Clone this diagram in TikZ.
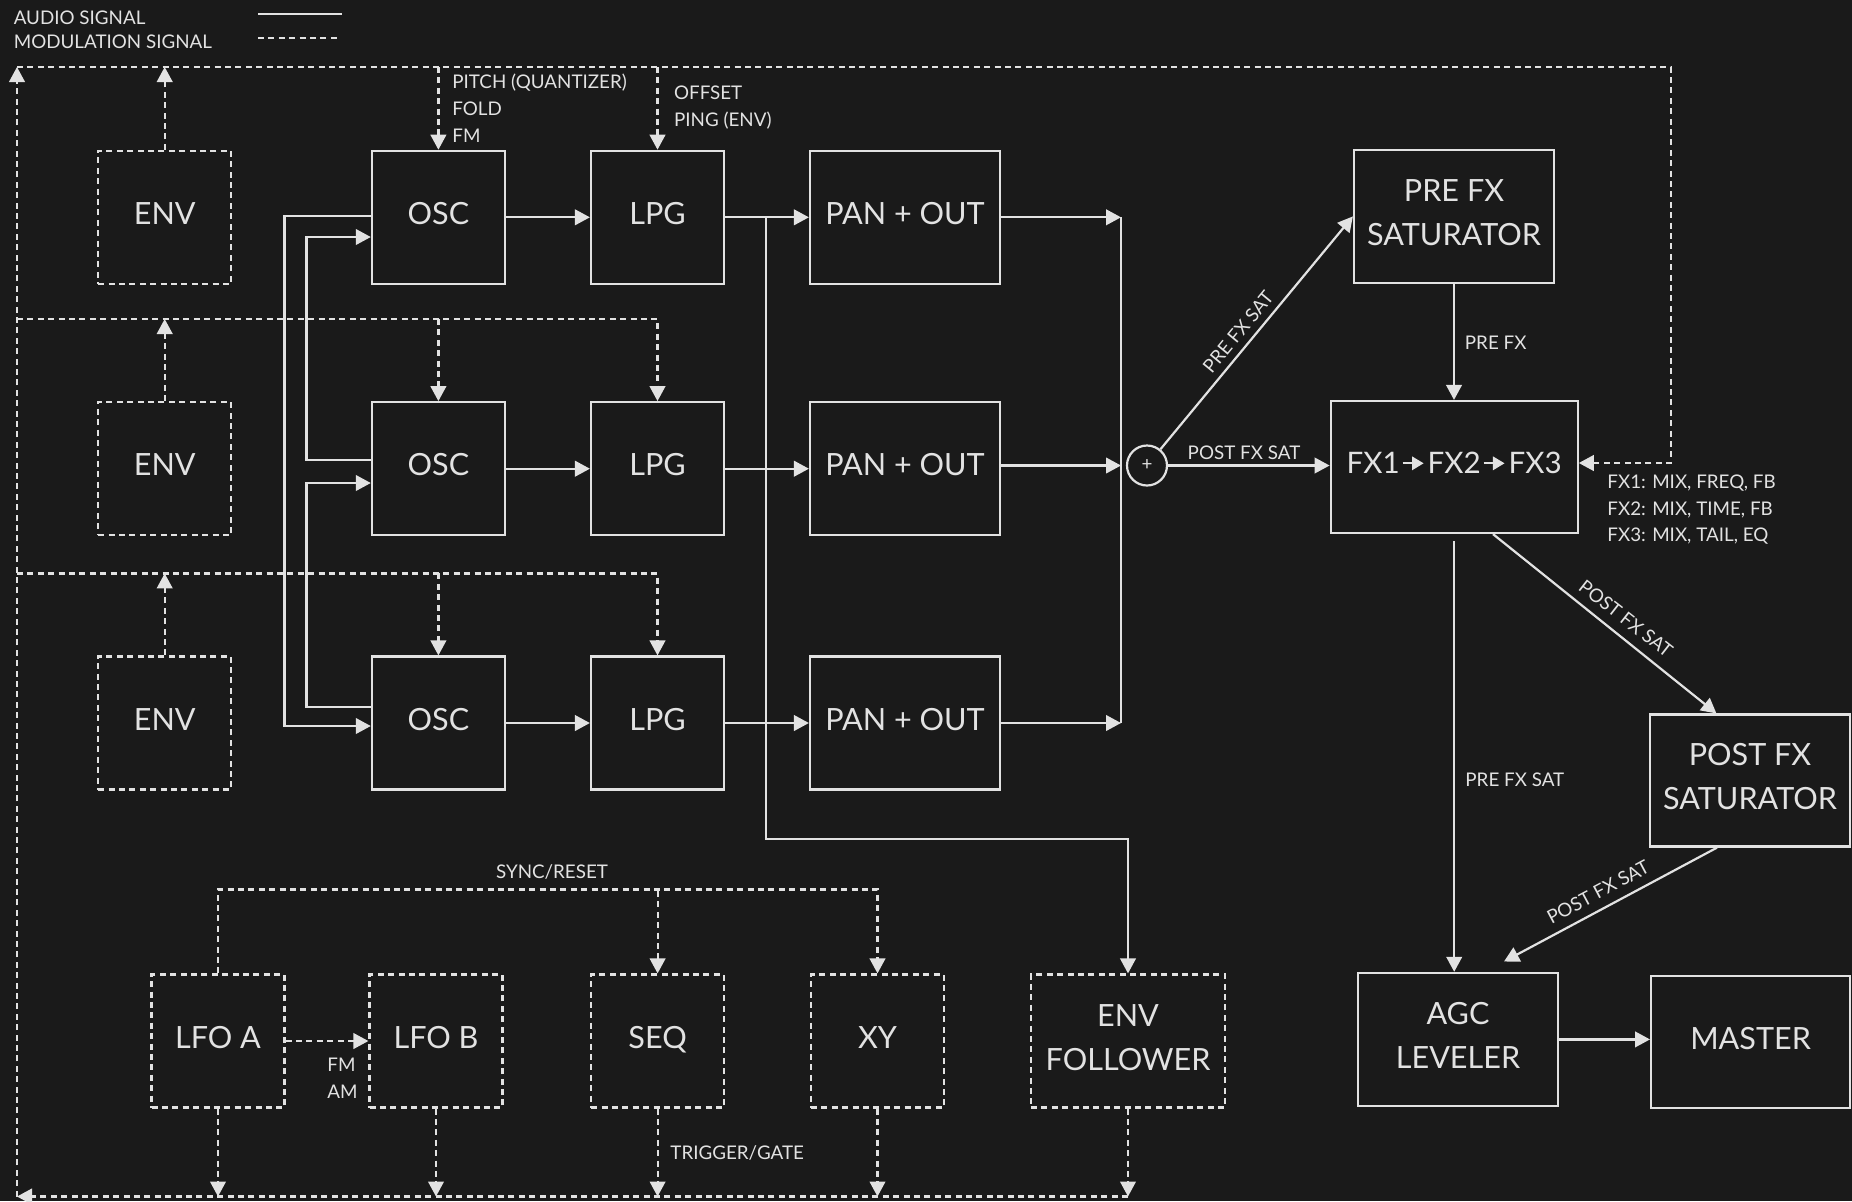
\documentclass[tikz,border=0pt]{standalone}
\usepackage{fontspec}
\setmainfont{Lato}
\usetikzlibrary{arrows.meta,calc}
\definecolor{bg}{HTML}{1A1A1A}
\definecolor{fg}{HTML}{E2E2E2}
\newcommand\myBig{\fontsize{15.3pt}{22pt}\selectfont}
\newcommand\myFx{\fontsize{14.8pt}{22pt}\selectfont}
\newcommand\mySmall{\fontsize{9.4pt}{13pt}\selectfont}
\tikzset{
  box/.style={draw=fg, line width=1.1pt, fill=bg, text=fg, minimum width=66.5pt, minimum height=66.5pt,
    inner sep=0pt, font=\myBig, align=center, execute at end node={\rule[-3.8pt]{0pt}{0pt}}},
  modbox/.style={box, dash pattern=on 3pt off 2.2pt},
  audline/.style={color=fg, line width=1.1pt},
  aud/.style={audline, -{Triangle[length=7.5pt,width=7.8pt]}},
  modline/.style={color=fg, line width=1.1pt, dash pattern=on 3pt off 2.2pt},
  mod/.style={modline, -{Triangle[length=7.5pt,width=7.8pt]}},
  lbl/.style={text=fg, font=\mySmall, inner sep=0pt, text height=6.8pt, text depth=0pt},
  fxt/.style={text=fg, font=\myFx, inner sep=0pt, text height=10.6pt, text depth=0pt},
  fxa/.style={color=fg, line width=1pt, -{Triangle[length=5.8pt,width=6.7pt]}, shorten <=1.2pt, shorten >=1.8pt},
}
\begin{document}
\begin{tikzpicture}[x=0.5pt,y=-0.5pt]
\path[use as bounding box, fill=bg] (0,0) rectangle (1852,1201);

% legend
\node[lbl, anchor=west] (legA) at (13.4,17.3) {AUDIO SIGNAL};
\node[lbl, anchor=west] (legM) at (13.4,41.7) {MODULATION SIGNAL};
\coordinate (legA1) at (258,14.3); \coordinate (legA2) at (341.5,14.3);
\coordinate (legM1) at (258,38.3); \coordinate (legM2) at (338,38.3);
\draw[audline] (legA1) -- (legA2);
\draw[modline] (legM1) -- (legM2);

% voice rows
\foreach \i/\y in {1/217.3, 2/468.7, 3/723} {
  \node[modbox] (env\i) at (164.7,\y) {ENV};
  \node[box] (osc\i) at (438.4,\y) {OSC};
  \node[box] (lpg\i) at (657.5,\y) {LPG};
  \node[box, minimum width=95pt] (pan\i) at (905,\y) {PAN + OUT};
}

% fx side
\node[circle, draw=fg, line width=1.1pt, fill=bg, text=fg, minimum size=20pt, inner sep=0pt, font=\mySmall] (sum) at (1147,465.5) {+};
\node[box, minimum width=100pt] (presat) at (1454,216.4) {PRE FX\\SATURATOR};
\node[box, minimum width=123.5pt, minimum height=66pt] (fx) at (1454.2,467) {};
\node[fxt] (fxt2) at (1454.2,463.3) {FX2};
\node[fxt, anchor=east] (fxt1) at ($(fxt2.west)+(-27,0)$) {FX1};
\node[fxt, anchor=west] (fxt3) at ($(fxt2.east)+(27,0)$) {FX3};
\draw[fxa] (fxt1.east) -- (fxt2.west);
\draw[fxa] (fxt2.east) -- (fxt3.west);
\node[box, minimum width=100pt, minimum height=66pt] (postsat) at (1750,780.5) {POST FX\\SATURATOR};
\node[box, minimum width=100pt] (agc) at (1458,1039.4) {AGC\\LEVELER};
\node[box, minimum width=99.5pt, minimum height=66pt] (master) at (1750.6,1042) {MASTER};

% bottom modulators
\node[modbox] (lfoa) at (218,1041) {LFO A};
\node[modbox] (lfob) at (436,1041) {LFO B};
\node[modbox] (seq) at (657.6,1041) {SEQ};
\node[modbox] (xy) at (877.5,1041) {XY};
\node[modbox, minimum width=97pt] (envf) at (1128,1041) {ENV\\FOLLOWER};

% audio connections
\foreach \i in {1,2,3} {
  \draw[aud] (osc\i) -- (lpg\i);
  \draw[aud] (lpg\i) -- (pan\i);
}
\coordinate (bus1) at (1121,217.3);
\coordinate (bus3) at (1121,723);
\draw[audline] (bus1) -- (bus3);
\draw[aud] (pan1) -- (bus1);
\draw[aud] (pan3) -- (bus3);
\draw[aud] (pan2.east |- sum) -- (bus1 |- sum);

\draw[aud] (sum) -- (sum -| fx.west);
\draw[aud] (sum) -- (presat.west);
\draw[aud] (presat.south) -- (presat.south |- fx.north);
\draw[aud] ([yshift=-3.5pt]fx.south) -- (fx.south |- agc.north);
\draw[aud] ($(fx.south)+(38.8,0)$) -- ($(postsat.north)+(-33.6,0)$);
\draw[aud] ($(postsat.south)+(-33,0)$) -- ($(agc.north)+(46,-10.3)$);
\draw[aud] (agc.east) -- (agc.east -| master.west);

% oscillator cross routing
\draw[aud] ([yshift=0.8pt]osc1.west) -- ++(-86.3,0) |- ([yshift=-1.5pt]osc3.west);
\draw[aud] ([yshift=4.5pt]osc2.west) -- ++(-64.4,0) |- ([yshift=-9.85pt]osc1.west);
\draw[aud] ([yshift=8.15pt]osc3.west) -- ++(-64.4,0) |- ([yshift=-7.15pt]osc2.west);

% tap to env follower
\coordinate (tap) at ($(lpg1.east)+(41,0)$);
\coordinate (tapb) at ($(tap)+(0,621.7)$);
\draw[aud] (tap) -- (tapb) -| (envf.north);

% modulation bus
\coordinate (tl) at (17,67);
\coordinate (tr) at (1671,67);
\coordinate (bl) at (17,1196.5);
\draw[mod] (bl) -- (tl);
\draw[mod] (tl) -- (tr) |- ([yshift=2pt]fx.east);
\draw[mod] (env1) -- (env1.north |- tl);
\draw[mod] (osc1.north |- tl) -- (osc1.north);
\draw[mod] (lpg1.north |- tl) -- (lpg1.north);

\coordinate (r2) at (17,319);
\coordinate (r3) at (17,573.4);
\foreach \i/\r in {2/r2, 3/r3} {
  \draw[mod] (\r) -| (lpg\i.north);
  \draw[mod] (osc\i.north |- \r) -- (osc\i.north);
  \draw[mod] (env\i) -- (env\i.north |- \r);
}

% bottom modulation
\draw[mod] (lfoa.north) -- ++(0,-84) -| (xy.north);
\draw[mod] (seq.north |- 0,891) -- (seq.north);
\draw[mod] (lfoa) -- (lfob);
\foreach \n in {lfoa,lfob,seq,xy,envf} {
  \draw[mod] (\n) -- (\n.south |- bl);
}
\draw[mod] (envf.south |- bl) -- (bl);

% labels
\node[lbl, anchor=west] (lpitch) at (452,82) {PITCH (QUANTIZER)};
\node[lbl, anchor=west] (lfold) at (452,109) {FOLD};
\node[lbl, anchor=west] (lfm) at (452,135.5) {FM};
\node[lbl, anchor=west] (loff) at (673.7,92.5) {OFFSET};
\node[lbl, anchor=west] (lping) at (673.7,120) {PING (ENV)};
\node[lbl] (lpostfx) at (1244,453) {POST FX SAT};
\node[lbl, rotate=50.5] (lprefxsat) at (1238,332) {PRE FX SAT};
\node[lbl, anchor=west] (lprefx) at (1464.5,343) {PRE FX};
\node[lbl, anchor=west] (lfx1) at (1607,482) {FX1: MIX, FREQ, FB};
\node[lbl, anchor=west] (lfx2) at (1607,509) {FX2: MIX, TIME, FB};
\node[lbl, anchor=west] (lfx3) at (1607,535) {FX3: MIX, TAIL, EQ};
\node[lbl, rotate=-38] (lpost1) at (1626,618.5) {POST FX SAT};
\node[lbl, anchor=west] (lpre2) at (1465,780) {PRE FX SAT};
\node[lbl, rotate=28] (lpost2) at (1598,892) {POST FX SAT};
\node[lbl] (lsync) at (552,871.5) {SYNC/RESET};
\node[lbl, anchor=west] (lfmb) at (327,1064.7) {FM};
\node[lbl, anchor=west] (lamb) at (327,1092) {AM};
\node[lbl, anchor=west] (ltrig) at (670,1153) {TRIGGER/GATE};
\end{tikzpicture}
\end{document}
